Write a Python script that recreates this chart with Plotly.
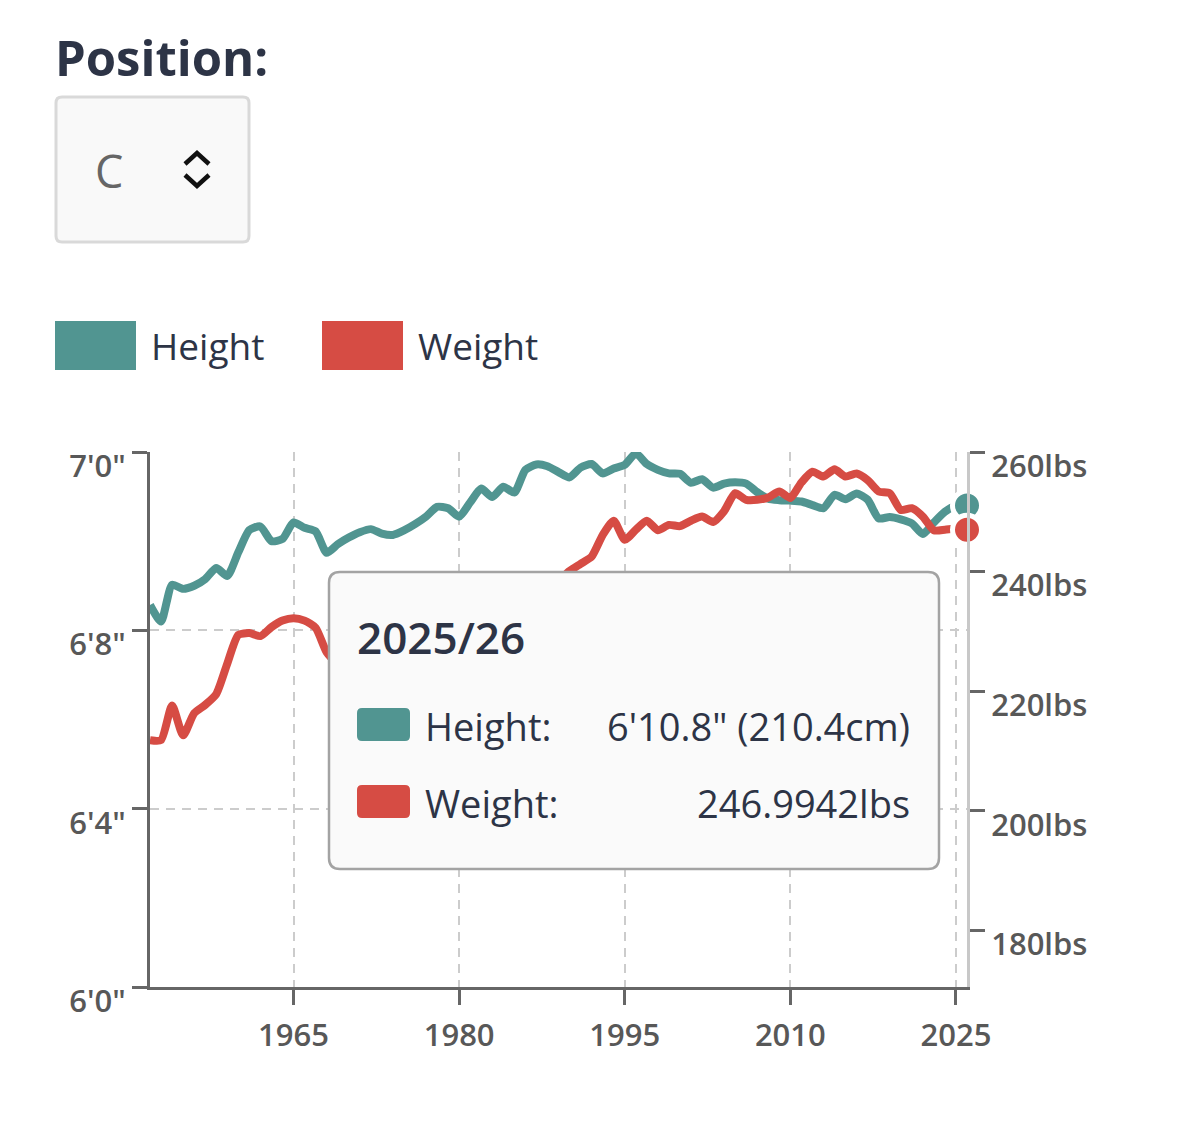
import plotly.graph_objects as go

# ---------------- data ----------------
seasons = list(range(1952, 2027))
height_in = [80.57, 80.20, 81.02, 80.93, 81.00, 81.15, 81.40, 81.22, 81.75, 82.25,
             82.33, 82.00, 82.05, 82.42, 82.30, 82.22, 81.74, 81.93, 82.08, 82.20,
             82.27, 82.17, 82.14, 82.24, 82.38, 82.55, 82.77, 82.74, 82.55, 82.87,
             83.18, 82.99, 83.22, 83.09, 83.60, 83.72, 83.68, 83.55, 83.43, 83.65,
             83.73, 83.52, 83.63, 83.71, 83.97, 83.73, 83.60, 83.52, 83.51, 83.31,
             83.39, 83.20, 83.29, 83.32, 83.29, 83.10, 82.95, 82.92, 82.91, 82.89,
             82.81, 82.74, 83.04, 82.94, 83.07, 82.93, 82.51, 82.54, 82.49, 82.40,
             82.16, 82.42, 82.66, 82.79, 82.80]
weight_lbs = [211.8, 211.8, 217.6, 212.6, 216.3, 217.7, 219.5, 224.6, 229.4, 229.7,
              229.2, 230.7, 231.8, 232.2, 231.8, 230.6, 226.5, 224.5, 223.5, 223.0,
              223.0, 223.5, 224.0, 224.5, 225.5, 226.5, 227.5, 228.0, 228.5, 229.5,
              231.0, 232.0, 233.0, 234.0, 235.0, 236.5, 237.5, 238.5, 240.1, 241.3,
              242.5, 246.1, 248.5, 245.3, 247.0, 248.5, 246.9, 247.8, 247.6, 248.5,
              249.2, 248.3, 250.1, 253.1, 252.0, 252.0, 252.4, 253.4, 252.3, 254.9,
              256.7, 255.9, 257.1, 255.9, 256.4, 255.3, 253.4, 253.1, 250.3, 250.6,
              249.2, 246.9, 247.0, 247.2, 246.99]

x_ticks = [1965, 1980, 1995, 2010, 2025]
height_ticks = [72, 76, 80, 84]
height_labels = ["6'0\"", "6'4\"", "6'8\"", "7'0\""]
weight_ticks = [180, 200, 220, 240, 260]
weight_labels = ["180lbs", "200lbs", "220lbs", "240lbs", "260lbs"]

position_label = "Position:"
position_value = "C"
series_names = ["Height", "Weight"]
tooltip_title = "2025/26"
tooltip_rows = ["Height:", "Weight:"]
tooltip_values = ["6'10.8\" (210.4cm)", "246.9942lbs"]

TEAL = "#519591"
RED = "#d64c44"
NAVY = "#2d3446"
GREY_TXT = "#585858"
FONT = "Open Sans"

# ---------------- geometry helpers (pixel -> paper) ----------------
W, H = 1200, 1122
L, R, T, B = 150, 967, 452, 987


def px(x):
    return (x - L) / (R - L)


def py(y):
    return (B - y) / (B - T)


def rrect(x0, y0, x1, y1, r):
    pts = [
        ("M", [(x0 + r, y0)]), ("L", [(x1 - r, y0)]), ("Q", [(x1, y0), (x1, y0 + r)]),
        ("L", [(x1, y1 - r)]), ("Q", [(x1, y1), (x1 - r, y1)]), ("L", [(x0 + r, y1)]),
        ("Q", [(x0, y1), (x0, y1 - r)]), ("L", [(x0, y0 + r)]), ("Q", [(x0, y0), (x0 + r, y0)]),
    ]
    s = ""
    for cmd, ps in pts:
        s += cmd + " " + " ".join(f"{px(a):.5f},{py(b):.5f}" for a, b in ps) + " "
    return s + "Z"


fig = go.Figure()

fig.add_trace(go.Scatter(x=seasons, y=height_in, mode="lines", yaxis="y",
                         line=dict(color=TEAL, width=8, shape="spline", smoothing=0.6),
                         hoverinfo="skip", showlegend=False, name=series_names[0]))
fig.add_trace(go.Scatter(x=seasons, y=weight_lbs, mode="lines", yaxis="y2",
                         line=dict(color=RED, width=8, shape="spline", smoothing=0.6),
                         hoverinfo="skip", showlegend=False, name=series_names[1]))
fig.add_trace(go.Scatter(x=seasons[-1:], y=height_in[-1:], mode="markers", yaxis="y",
                         marker=dict(color=TEAL, size=29, line=dict(color="white", width=5)),
                         hoverinfo="skip", showlegend=False, cliponaxis=False))
fig.add_trace(go.Scatter(x=seasons[-1:], y=weight_lbs[-1:], mode="markers", yaxis="y2",
                         marker=dict(color=RED, size=29, line=dict(color="white", width=5)),
                         hoverinfo="skip", showlegend=False, cliponaxis=False))

shapes = []
annotations = []

# Select box
shapes.append(dict(type="path", xref="paper", yref="paper", path=rrect(56, 97, 249, 242, 6),
                   fillcolor="#f9f9f9", line=dict(color="#d9d9d9", width=3), layer="above"))
shapes.append(dict(type="path", xref="paper", yref="paper",
                   path=f"M {px(185)},{py(164)} L {px(197)},{py(153)} L {px(209)},{py(164)}",
                   line=dict(color="#111111", width=4.5), layer="above"))
shapes.append(dict(type="path", xref="paper", yref="paper",
                   path=f"M {px(185)},{py(175)} L {px(197)},{py(186)} L {px(209)},{py(175)}",
                   line=dict(color="#111111", width=4.5), layer="above"))
annotations.append(dict(text=f"<b>{position_label}</b>", x=px(53), y=py(57), xref="paper", yref="paper",
                        xanchor="left", yanchor="middle", showarrow=False,
                        font=dict(family=FONT, size=49, color=NAVY)))
annotations.append(dict(text=position_value, x=px(93), y=py(171), xref="paper", yref="paper",
                        xanchor="left", yanchor="middle", showarrow=False,
                        font=dict(family=FONT, size=45, color="#666666")))

# Legend
for i, (name, col, x0) in enumerate(zip(series_names, [TEAL, RED], [55, 322])):
    shapes.append(dict(type="rect", xref="paper", yref="paper", x0=px(x0), x1=px(x0 + 81),
                       y0=py(370), y1=py(321), fillcolor=col, line=dict(width=0), layer="above"))
    annotations.append(dict(text=name, x=px(x0 + 94), y=py(345), xref="paper", yref="paper",
                            xanchor="left", yanchor="middle", showarrow=False,
                            font=dict(family=FONT, size=37, color=NAVY)))

# Tooltip
shapes.append(dict(type="path", xref="paper", yref="paper", path=rrect(329, 572, 939, 869, 11),
                   fillcolor="#fafafa", line=dict(color="#a3a3a3", width=2.5), layer="above"))
annotations.append(dict(text=tooltip_title, x=px(355), y=py(637), xref="paper", yref="paper",
                        xanchor="left", yanchor="middle", showarrow=False,
                        font=dict(family=FONT, size=44, color=NAVY, weight=600)))
for label, val, col, yc in zip(tooltip_rows, tooltip_values, [TEAL, RED], [725, 802]):
    shapes.append(dict(type="path", xref="paper", yref="paper", path=rrect(357, yc - 17, 410, yc + 16, 5),
                       fillcolor=col, line=dict(width=0), layer="above"))
    annotations.append(dict(text=label, x=px(423), y=py(yc + 1), xref="paper", yref="paper",
                            xanchor="left", yanchor="middle", showarrow=False,
                            font=dict(family=FONT, size=38, color=NAVY)))
    annotations.append(dict(text=val, x=px(912), y=py(yc + 1), xref="paper", yref="paper",
                            xanchor="right", yanchor="middle", showarrow=False,
                            font=dict(family=FONT, size=38, color=NAVY)))

tickfont = dict(family=FONT, size=31, color=GREY_TXT, weight=600)

fig.update_layout(
    width=W, height=H, autosize=False,
    margin=dict(l=L, r=W - R, t=T, b=H - B, pad=0),
    paper_bgcolor="white", plot_bgcolor="white",
    showlegend=False, hovermode=False,
    font=dict(family=FONT, color=GREY_TXT, size=28),
    xaxis=dict(range=[1952, 2026], tickvals=x_ticks, ticktext=[str(v) for v in x_ticks],
               showline=True, linecolor="#666666", linewidth=3, ticks="outside", ticklen=15,
               tickwidth=3, tickcolor="#666666", showgrid=True, gridcolor="#cccccc",
               griddash="9px,7px", gridwidth=2, zeroline=False, ticklabelstandoff=4,
               tickfont=tickfont),
    yaxis=dict(range=[72, 84], tickvals=height_ticks, ticktext=height_labels,
               showline=True, linecolor="#666666", linewidth=3, ticks="outside", ticklen=15,
               tickwidth=3, tickcolor="#666666", showgrid=True, gridcolor="#cccccc",
               griddash="9px,7px", gridwidth=2, zeroline=False, ticklabelshift=14,
               ticklabelstandoff=0, tickfont=tickfont),
    yaxis2=dict(range=[170.5, 260], overlaying="y", side="right", tickvals=weight_ticks,
                ticktext=weight_labels, showline=True, linecolor="#c8c8c8", linewidth=3,
                ticks="outside", ticklen=15, tickwidth=3, tickcolor="#666666", showgrid=False,
                zeroline=False, ticklabelshift=14, ticklabelstandoff=0,
                tickfont=tickfont),
    shapes=shapes, annotations=annotations,
)

fig.write_html("out.html", config={"displayModeBar": False})
